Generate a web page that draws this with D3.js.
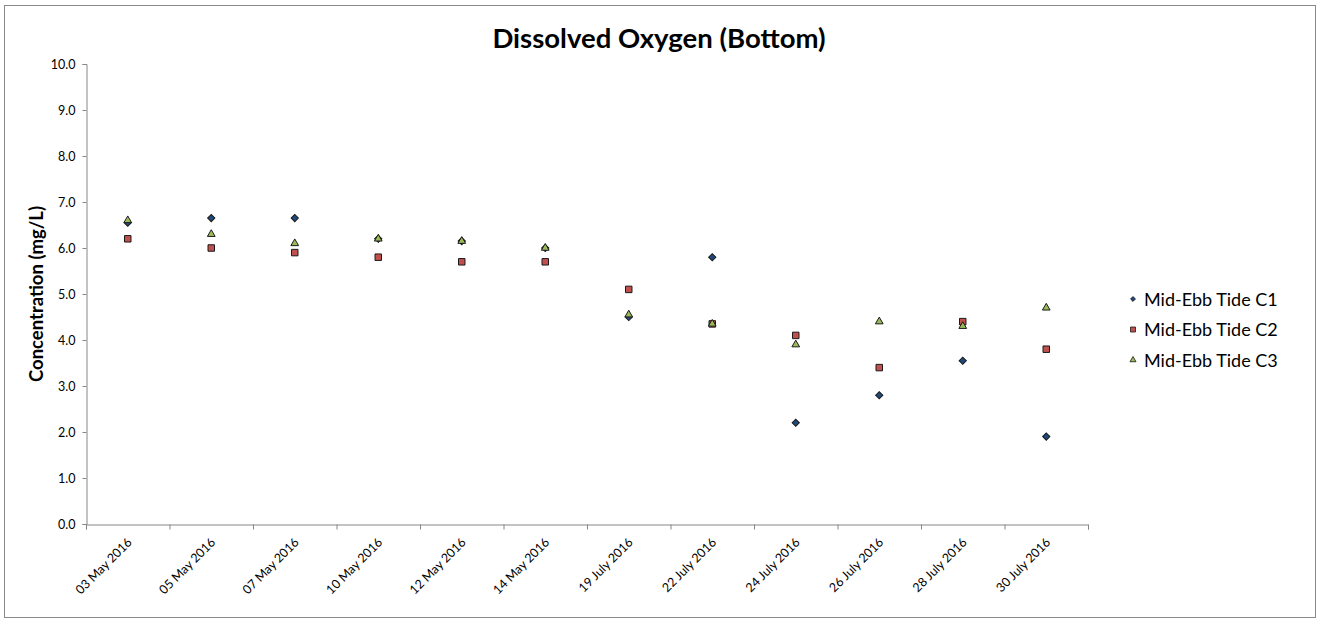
<!DOCTYPE html>
<html>
<head>
<meta charset="utf-8">
<script src="https://cdn.jsdelivr.net/npm/d3@7"></script>
<style>
  html, body { margin: 0; padding: 0; background: #fff; }
  svg { display: block; }
  text { font-family: Lato, "Open Sans", sans-serif; fill: #000; }
</style>
</head>
<body>
<svg id="chart" width="1318" height="619"></svg>
<script>
const categories = ["03 May 2016","05 May 2016","07 May 2016","10 May 2016","12 May 2016","14 May 2016",
  "19 July 2016","22 July 2016","24 July 2016","26 July 2016","28 July 2016","30 July 2016"];
const seriesNames = ["Mid-Ebb Tide C1","Mid-Ebb Tide C2","Mid-Ebb Tide C3"];
const c1Values = [6.55, 6.65, 6.65, 6.2, 6.15, 6.0, 4.5, 5.8, 2.2, 2.8, 3.55, 1.9];
const c2Values = [6.2, 6.0, 5.9, 5.8, 5.7, 5.7, 5.1, 4.35, 4.1, 3.4, 4.4, 3.8];
const c3Values = [6.6, 6.3, 6.1, 6.2, 6.15, 6.0, 4.55, 4.35, 3.9, 4.4, 4.3, 4.7];
const yTicks = [0,1,2,3,4,5,6,7,8,9,10];
const titleText = "Dissolved Oxygen (Bottom)";
const yTitleText = "Concentration (mg/L)";

const svg = d3.select("#chart");
const plot = {left: 86, right: 1088, top: 64, bottom: 524};

// outer border
svg.append("rect").attr("x", 4.5).attr("y", 5.5).attr("width", 1311).attr("height", 612)
  .attr("fill", "#fff").attr("stroke", "#8a8a8a").attr("stroke-width", 1);

const x = d3.scaleBand().domain(categories).range([plot.left, plot.right]).padding(0);
const xIdx = d3.scaleLinear().domain([0, categories.length]).range([plot.left, plot.right]);
const y = d3.scaleLinear().domain([0, 10]).range([plot.bottom, plot.top]);

const axisColor = "#868686";

// Y axis
const gy = svg.append("g").attr("transform", `translate(${plot.left + 0.5},0)`)
  .call(d3.axisLeft(y).tickValues(yTicks).tickSize(4).tickPadding(7).tickFormat(d3.format(".1f")));
gy.select(".domain").attr("stroke", axisColor);
gy.selectAll(".tick line").attr("stroke", axisColor);
gy.selectAll(".tick text").attr("font-family", "Lato, sans-serif").attr("font-size", 12.5).attr("fill", "#000");

// X axis: boundary ticks
const gx = svg.append("g").attr("transform", `translate(0,${plot.bottom + 0.5})`)
  .call(d3.axisBottom(xIdx).tickValues(d3.range(categories.length + 1)).tickSize(5).tickFormat(""));
gx.select(".domain").attr("stroke", axisColor);
gx.selectAll(".tick line").attr("stroke", axisColor);

// X category labels
const gxl = svg.append("g").attr("transform", `translate(0,${plot.bottom})`)
  .call(d3.axisBottom(x).tickSize(0).tickPadding(0));
gxl.select(".domain").remove();
gxl.selectAll(".tick text")
  .attr("font-family", "Lato, sans-serif").attr("font-size", 12.5).attr("fill", "#000")
  .attr("text-anchor", "end").attr("dy", 0).attr("y", 0)
  .attr("transform", "translate(5,19) rotate(-45)");

// markers
const diamond = d3.symbol().type(d3.symbolSquare).size(26);
const square = d3.symbol().type(d3.symbolSquare).size(42);
const triangle = d3.symbol().type(d3.symbolTriangle).size(26);
const series = [
  {name: seriesNames[0], values: c1Values, gen: diamond, rot: 45, fill: "#1F497D"},
  {name: seriesNames[1], values: c2Values, gen: square, rot: 0, fill: "#C0504D"},
  {name: seriesNames[2], values: c3Values, gen: triangle, rot: 0, fill: "#9BBB59"}
];
const cx = c => x(c) + x.bandwidth() / 2;
series.forEach(s => {
  svg.append("g").selectAll("path").data(s.values).join("path")
    .attr("d", s.gen)
    .attr("transform", (d, i) => `translate(${cx(categories[i])},${y(d)}) rotate(${s.rot})`)
    .attr("fill", s.fill).attr("stroke", "#1a1a1a").attr("stroke-width", 1);
});

// title
svg.append("text").attr("x", 659).attr("y", 48).attr("text-anchor", "middle")
  .attr("font-size", 27.5).attr("font-weight", "bold").text(titleText);

// y title
svg.append("text").attr("transform", `translate(43,${(plot.top + plot.bottom) / 2}) rotate(-90)`)
  .attr("text-anchor", "middle").attr("font-size", 18.5).attr("font-weight", "bold").text(yTitleText);

// legend
const legendSmall = [
  d3.symbol().type(d3.symbolSquare).size(12),
  d3.symbol().type(d3.symbolSquare).size(25),
  d3.symbol().type(d3.symbolTriangle).size(16)
];
const lg = svg.append("g");
series.forEach((s, i) => {
  const ly = 299 + i * 30.5;
  lg.append("path").attr("d", legendSmall[i])
    .attr("transform", `translate(1133,${ly}) rotate(${s.rot})`)
    .attr("fill", s.fill).attr("stroke", "#1a1a1a").attr("stroke-width", 0.8);
  lg.append("text").attr("x", 1144).attr("y", ly + 6.5).attr("font-size", 18).text(s.name);
});
</script>
</body>
</html>
